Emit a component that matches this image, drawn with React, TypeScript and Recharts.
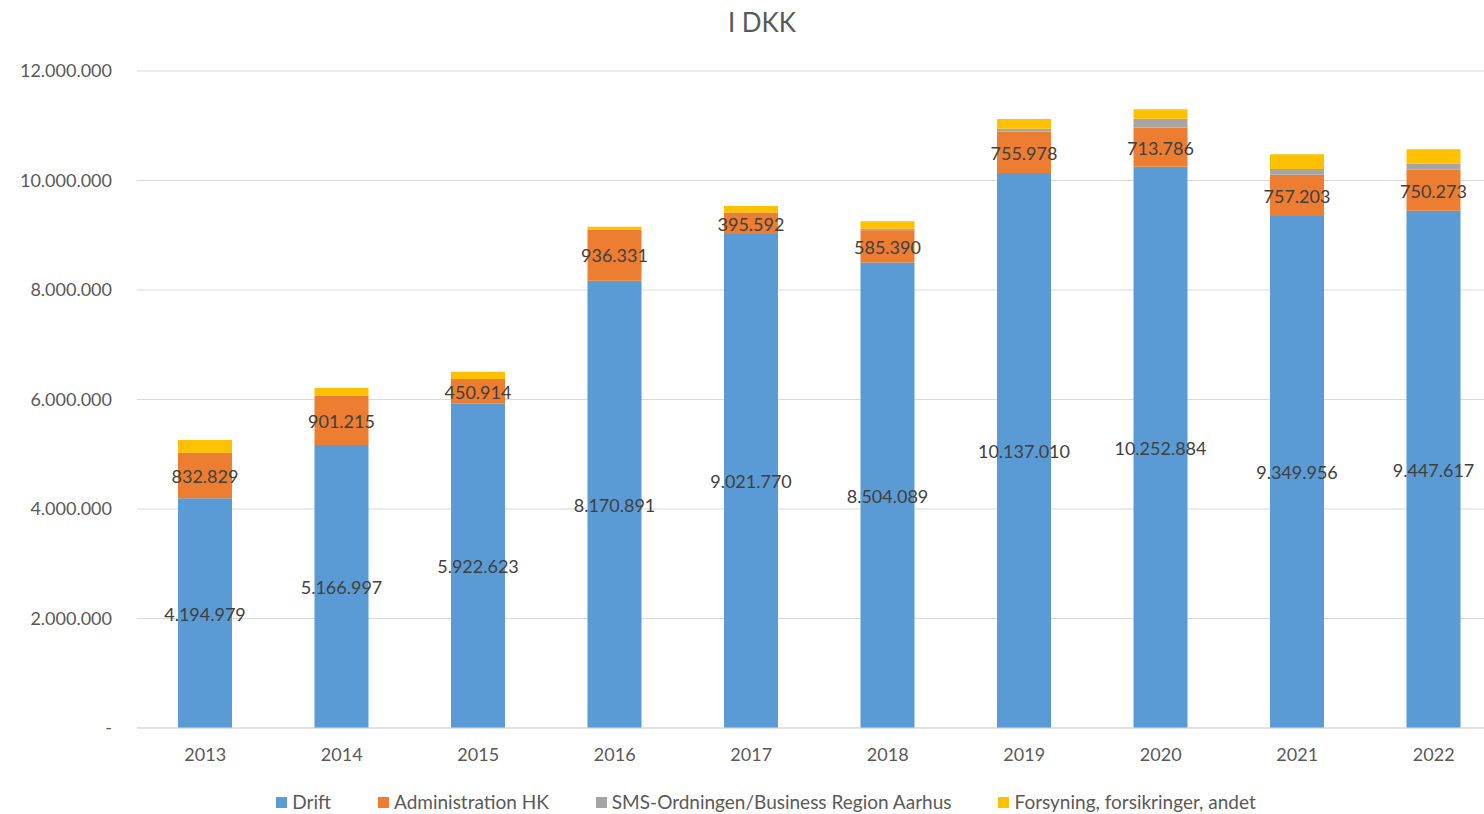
import { BarChart, Bar, XAxis, YAxis, CartesianGrid, Legend, LabelList } from 'recharts';

const years = ['2013', '2014', '2015', '2016', '2017', '2018', '2019', '2020', '2021', '2022'];
const drift = [4194979, 5166997, 5922623, 8170891, 9021770, 8504089, 10137010, 10252884, 9349956, 9447617];
const admin = [832829, 901215, 450914, 936331, 395592, 585390, 755978, 713786, 757203, 750273];
const sms = [0, 0, 0, 0, 0, 30000, 53000, 162000, 103000, 109000];
const forsyning = [232000, 142000, 135000, 50000, 117000, 135000, 177000, 171000, 269000, 263000];
const yTicks = [0, 2000000, 4000000, 6000000, 8000000, 10000000, 12000000];

const series = [
  { key: 'drift', name: 'Drift', color: '#5B9BD5' },
  { key: 'admin', name: 'Administration HK', color: '#ED7D31' },
  { key: 'sms', name: 'SMS-Ordningen/Business Region Aarhus', color: '#A5A5A5' },
  { key: 'forsyning', name: 'Forsyning, forsikringer, andet', color: '#FFC000' },
];

const data = years.map((y, i) => ({
  year: y,
  drift: drift[i],
  admin: admin[i],
  sms: sms[i],
  forsyning: forsyning[i],
}));

// danish thousands separator, "-" for zero like excel
const dk = (v: number) => (v === 0 ? '-' : Math.round(v).toString().replace(/\B(?=(\d{3})+(?!\d))/g, '.'));

const FONT = 'Lato, "Noto Sans", sans-serif';

function LegendContent() {
  return (
    <div style={{ display: 'flex', justifyContent: 'center', gap: 47, fontSize: 19, lineHeight: '24px', color: '#595959', fontFamily: FONT }}>
      {series.map((s) => (
        <div key={s.key} style={{ display: 'flex', alignItems: 'center', gap: 5 }}>
          <span style={{ width: 11, height: 11, background: s.color, display: 'inline-block' }} />
          <span>{s.name}</span>
        </div>
      ))}
    </div>
  );
}

export default function App() {
  return (
    <div style={{ position: 'fixed', top: 0, left: 0, width: 1484, height: 814, overflow: 'hidden', background: '#fff', fontFamily: FONT }}>
      <div style={{ position: 'absolute', top: 6, left: 0, width: 1524, textAlign: 'center', fontSize: 26, color: '#595959', lineHeight: '32px' }}>
        I DKK
      </div>
      <BarChart width={1520} height={814} data={data} margin={{ top: 71, right: 18, left: 0, bottom: 56 }} barSize={54}>
        <CartesianGrid vertical={false} stroke="#D9D9D9" />
        <XAxis
          dataKey="year"
          height={30}
          tickLine={false}
          axisLine={{ stroke: '#D9D9D9' }}
          tick={{ fontSize: 18, fill: '#595959', fontFamily: FONT }}
          tickMargin={14}
        />
        <YAxis
          width={137}
          domain={[0, 12000000]}
          ticks={yTicks}
          tickFormatter={dk}
          tickLine={false}
          axisLine={false}
          tick={{ fontSize: 18, fill: '#595959', fontFamily: FONT }}
          tickMargin={19}
        />
        <Legend
          layout="horizontal"
          verticalAlign="middle"
          align="center"
          content={<LegendContent />}
          wrapperStyle={{ position: 'absolute', top: 790, left: 266, width: 1000, height: 26, overflow: 'visible' }}
        />
        {series.map((s) => (
          <Bar key={s.key} dataKey={s.key} name={s.name} stackId="a" fill={s.color} isAnimationActive={false}>
            {(s.key === 'drift' || s.key === 'admin') && (
              <LabelList
                dataKey={s.key}
                position="center"
                formatter={(v: any) => dk(Number(v))}
                fill="#404040"
                fontSize={18}
                fontFamily={FONT}
                dy={1}
              />
            )}
          </Bar>
        ))}
      </BarChart>
    </div>
  );
}
